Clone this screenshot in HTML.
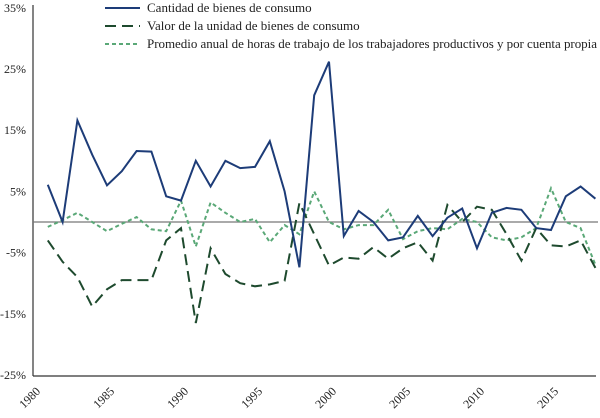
<!DOCTYPE html>
<html><head><meta charset="utf-8"><style>
html,body{margin:0;padding:0;background:#fff;}
svg{display:block;font-family:"Liberation Serif",serif;}
</style></head><body>
<svg id="chart" width="600" height="418" viewBox="0 0 600 418"></svg>
<script>
const years = [];
for (let y = 1981; y <= 2018; y++) years.push(y);
const cantidad = [6.1,0,16.6,11,6,8.3,11.6,11.5,4.2,3.5,10,5.8,10,8.8,9,13.2,5,-7.4,20.7,26.2,-2.3,1.8,0,-3,-2.5,1,-2.3,0.7,2.2,-4.3,1.5,2.3,2,-1,-1.3,4.2,5.8,3.8];
const valor = [-3,-6.5,-9,-13.8,-11,-9.5,-9.5,-9.5,-3,-1,-16.5,-4.3,-8.5,-10,-10.5,-10.2,-9.6,3.1,-2,-7.1,-5.8,-6,-4.1,-6,-4.3,-3.3,-6.3,2.8,0,2.5,2,-2,-6.3,-1,-3.8,-4,-3,-7.5];
const horas = [-0.8,0.3,1.5,0,-1.5,-0.3,0.8,-1.2,-1.5,3.5,-4,3.2,1.5,0,0.5,-3.3,-0.5,-2,5,0,-1.2,-0.5,-0.5,2,-2.8,-1.5,-1,-1.2,0.5,0,-2.5,-3,-2.5,-1,5.5,0,-1,-7];
const yTicks = [35,25,15,5,-5,-15,-25];
const yTickLabels = ["35%","25%","15%","5%","-5%","-15%","-25%"];
const xTicks = [1980,1985,1990,1995,2000,2005,2010,2015];

const NS = "http://www.w3.org/2000/svg";
const svg = document.getElementById("chart");
const xs = yr => 33 + (yr - 1980) * 14.8;
const ys = v => 222 - v * 6.12;
function mk(tag, attrs, parent) {
  const e = document.createElementNS(NS, tag);
  for (const k in attrs) e.setAttribute(k, attrs[k]);
  (parent || svg).appendChild(e);
  return e;
}
const ya = mk("line",{x1:33,y1:5,x2:33,y2:376,stroke:"#333","stroke-width":1.2});


const xa = mk("line",{x1:33,y1:376,x2:596,y2:376,stroke:"#333","stroke-width":1.2});


const zl = mk("line",{x1:33,y1:ys(0),x2:598,y2:ys(0),stroke:"#777","stroke-width":1.2});


yTicks.forEach((v,i) => {
  const t = mk("text",{x:26,y:ys(v)+4,"text-anchor":"end","font-size":12,fill:"#222"});
  t.textContent = yTickLabels[i];
  
  
});
xTicks.forEach(yr => {
  const x = xs(yr) + 8, y = 392;
  const t = mk("text",{x:x,y:y,"text-anchor":"end","font-size":12,fill:"#222",transform:`rotate(-45 ${x} ${y})`});
  t.textContent = yr;
  
  
});
function series(vals, color, width, dash, name) {
  const d = vals.map((v,i) => (i?"L":"M") + xs(years[i]).toFixed(1) + " " + ys(v).toFixed(1)).join(" ");
  const p = mk("path",{d:d,fill:"none",stroke:color,"stroke-width":width,"stroke-dasharray":dash,"stroke-linejoin":"miter"});
  
  
}
series(horas, "#5aa877", 2, "4 3", "series-horas");
series(valor, "#1e4a2e", 2, "11 6", "series-valor");
series(cantidad, "#1d3c78", 2, "none", "series-cantidad");
const legend = [
  ["Cantidad de bienes de consumo","#1d3c78","none"],
  ["Valor de la unidad de bienes de consumo","#1e4a2e","11 6"],
  ["Promedio anual de horas de trabajo de los trabajadores productivos y por cuenta propia","#5aa877","4 3"]
];
legend.forEach((l,i) => {
  const g = mk("g",{});
  
  
  const y = 8 + i*18;
  mk("line",{x1:105,y1:y,x2:140,y2:y,stroke:l[1],"stroke-width":2,"stroke-dasharray":l[2]},g);
  const t = mk("text",{x:147,y:y+4,"font-size":13,fill:"#222",textLength:i==2?450:null},g);
  if (i!=2) t.removeAttribute("textLength");
  t.textContent = l[0];
});
</script>
</body></html>
